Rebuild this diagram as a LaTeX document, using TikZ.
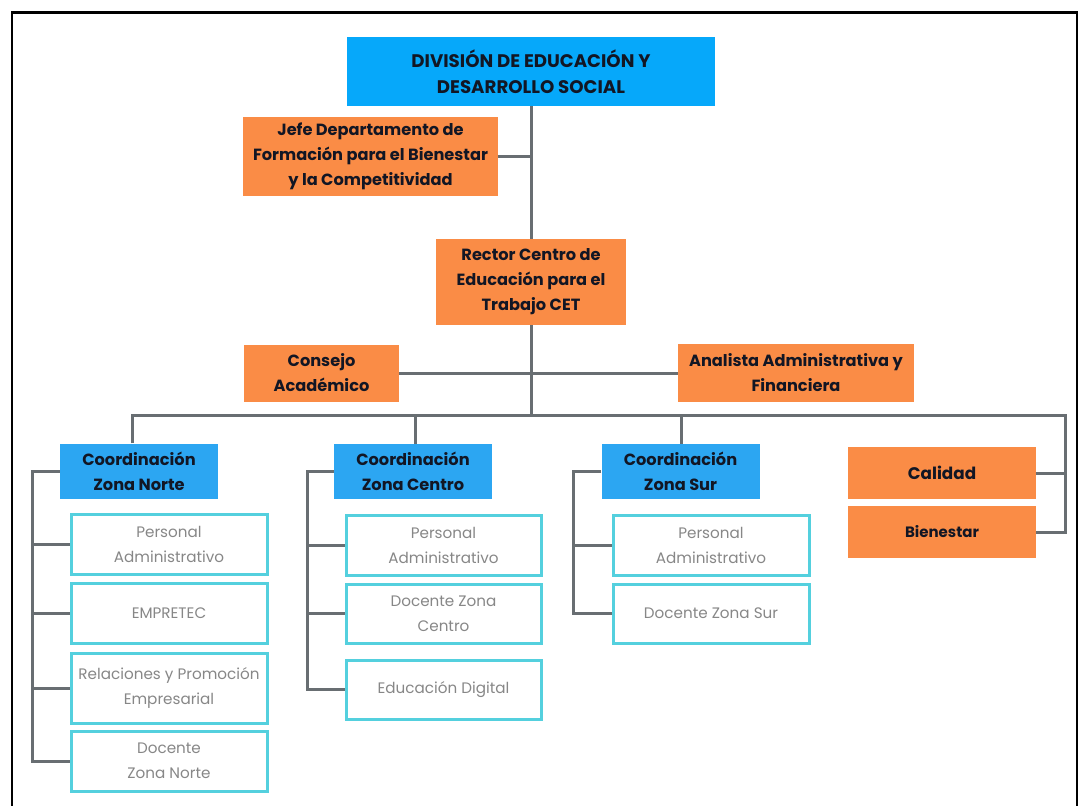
\documentclass[tikz,border=0pt]{standalone}
\usepackage{fontspec}
\setmainfont{Poppins}
\definecolor{azul}{RGB}{6,168,250}
\definecolor{azulc}{RGB}{44,166,242}
\definecolor{naranja}{RGB}{250,140,70}
\definecolor{cian}{RGB}{84,208,222}
\definecolor{linea}{RGB}{104,110,114}
\definecolor{tinta}{RGB}{18,22,36}
\definecolor{gris}{RGB}{135,135,135}
\begin{document}
\begin{tikzpicture}[x=1pt,y=-1pt,
    caja/.style={fill=naranja,text=tinta,align=center,inner sep=0pt,font=\bfseries\fontsize{16.2}{25}\selectfont},
    cabeza/.style={caja,fill=azul,font=\bfseries\fontsize{18.2}{26}\selectfont},
    coord/.style={caja,fill=azulc,minimum width=158,minimum height=55},
    sub/.style={draw=cian,line width=3pt,fill=white,text=gris,align=center,inner sep=0pt,
        minimum width=195,minimum height=59,font=\fontsize{15.2}{25}\selectfont},
    conector/.style={draw=linea,line width=3pt}]
\useasboundingbox (0,0) rectangle (1080,806);
\draw[line width=2.5pt](12,806)|-(1077,12.5)--(1077,806);

\node[cabeza,minimum width=368,minimum height=69](div) at (531,71.5){DIVISIÓN DE EDUCACIÓN Y\\DESARROLLO SOCIAL};
\node[caja,minimum width=255,minimum height=79](jefe) at (370.5,156.5){Jefe Departamento de\\Formación para el Bienestar\\y la Competitividad};
\node[caja,minimum width=190,minimum height=86](rector) at (531,282){Rector Centro de\\Educación para el\\Trabajo CET};
\node[caja,minimum width=155,minimum height=57](consejo) at (321.5,373){Consejo\\Académico};
\node[caja,minimum width=236,minimum height=58](analista) at (796,373){Analista Administrativa y\\Financiera};
\coordinate (rama) at (531,415);

\node[coord](norte) at (139,471){Coordinación\\Zona Norte};
\node[coord](centro) at (413,471.5){Coordinación\\Zona Centro};
\node[coord](sur) at (680.5,471.5){Coordinación\\Zona Sur};
\node[caja,minimum width=188,minimum height=52,font=\bfseries\fontsize{16.8}{25}\selectfont](calidad) at (942,473){Calidad};
\node[caja,minimum width=188,minimum height=52,font=\bfseries\fontsize{15}{25}\selectfont](bienestar) at (942,532){Bienestar};

\node[sub,minimum width=196,minimum height=60](n1) at (169,544){Personal\\Administrativo};
\node[sub,minimum width=196,minimum height=60](n2) at (169,613){EMPRETEC};
\node[sub,minimum width=196,minimum height=70](n3) at (169,688){Relaciones y Promoción\\Empresarial};
\node[sub,minimum width=196,minimum height=60](n4) at (169,761){Docente\\Zona Norte};

\node[sub,minimum height=60](c1) at (443.5,545){Personal\\Administrativo};
\node[sub](c2) at (443.5,613.5){Docente Zona\\Centro};
\node[sub](c3) at (443.5,689.5){Educación Digital};

\node[sub,minimum width=196,minimum height=60](s1) at (711,545){Personal\\Administrativo};
\node[sub,minimum width=196](s2) at (711,613.5){Docente Zona Sur};

\draw[conector](div.south)--(rector.north);
\draw[conector](jefe.east)--(jefe.east -| div.south);
\draw[conector](rector.south)--(rama);
\draw[conector](consejo.east)--(analista.west);
\draw[conector](132,0 |- norte.north)|-(1065,0 |- rama)|-(bienestar.east);
\draw[conector](calidad.east)--(1065,0 |- calidad.east);
\foreach \z/\x in {centro/415,sur/681}
    \draw[conector](\x,0 |- rama)--(\x,0 |- \z.north);

\draw[conector](norte.west)-|(32,0 |- n4.west)--(n4.west);
\foreach \s in {n1,n2,n3}
    \draw[conector](32,0 |- \s.west)--(\s.west);
\draw[conector](centro.west)-|(307,0 |- c3.west)--(c3.west);
\foreach \s in {c1,c2}
    \draw[conector](307,0 |- \s.west)--(\s.west);
\draw[conector](sur.west)-|(573,0 |- s2.west)--(s2.west);
\draw[conector](573,0 |- s1.west)--(s1.west);
\end{tikzpicture}
\end{document}
